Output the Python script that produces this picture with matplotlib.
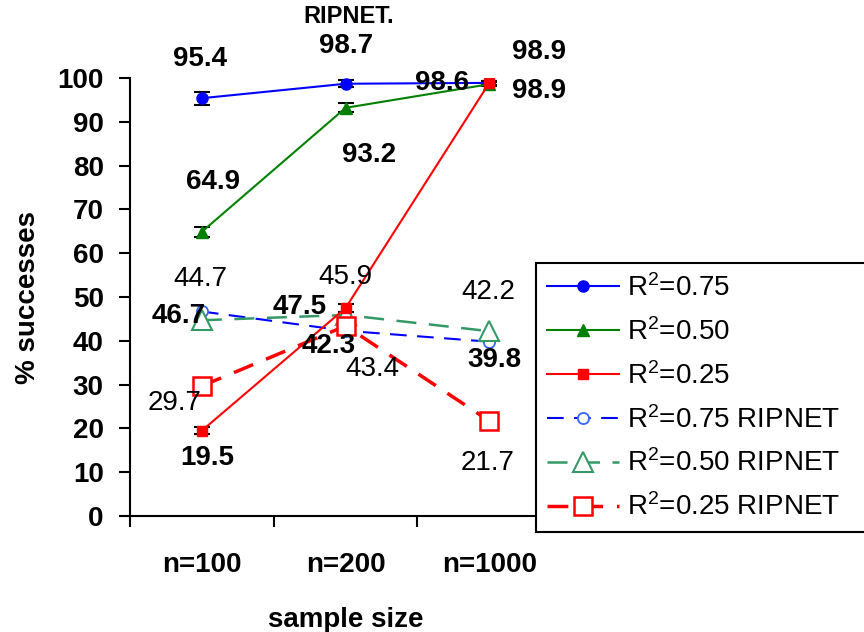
import matplotlib.pyplot as plt

plt.rcParams["font.family"] = ["Liberation Sans", "DejaVu Sans"]
plt.rcParams["mathtext.fontset"] = "custom"
plt.rcParams["mathtext.rm"] = "Liberation Sans"
plt.rcParams["mathtext.default"] = "regular"

sizes = ["n=100", "n=200", "n=1000"]

# success rates, full model
r75 = [95.4, 98.7, 98.9]
r50 = [64.9, 93.2, 98.6]
r25 = [19.5, 47.5, 98.9]
r75_err = [1.5, 0.8, 0.5]
r50_err = [1.2, 1.0, 0.5]
r25_err = [0.8, 1.0, 0.5]

# success rates, RIPNET
rip75 = [46.7, 42.3, 39.8]
rip50 = [44.7, 45.9, 42.2]
rip25 = [29.7, 43.4, 21.7]

x = [0.5, 1.5, 2.5]

fig = plt.figure(figsize=(8.64, 6.32), dpi=100)
ax = fig.add_axes([0.1505, 0.1835, 0.499, 0.693])

for vals, err in ((r75, r75_err), (r50, r50_err), (r25, r25_err)):
    ax.errorbar(x, vals, yerr=err, fmt="none", ecolor="black", elinewidth=1.5,
                capsize=6, capthick=1.5, zorder=6)

h1, = ax.plot(x, r75, color="#0000ff", marker="o", ms=8, lw=1.5, label="R$^2$=0.75", zorder=7)
h2, = ax.plot(x, r50, color="#008000", marker="^", ms=8, lw=1.5, label="R$^2$=0.50", zorder=7)
h3, = ax.plot(x, r25, color="#ff0000", marker="s", ms=6.5, lw=1.5, label="R$^2$=0.25", zorder=7)

h4, = ax.plot(x, rip75, color="#0000ff", ls=(0, (8, 5)), lw=1.5, marker="o", ms=8,
              mfc="white", mec="#3366ff", mew=1.3, label="R$^2$=0.75 RIPNET", zorder=4)
h5, = ax.plot(x, rip50, color="#339966", ls=(0, (8, 5)), lw=1.8, marker="^", ms=14,
              mfc="white", mec="#339966", mew=1.5, label="R$^2$=0.50 RIPNET", zorder=4)
h6, = ax.plot(x, rip25, color="#ff0000", ls=(0, (6, 4)), lw=2.5, marker="s", ms=13,
              mfc="white", mec="#ff0000", mew=1.8, label="R$^2$=0.25 RIPNET", zorder=5)

ax.set_xlim(0, 3)
ax.set_ylim(0, 100)
ax.set_yticks(range(0, 101, 10))
ax.set_xticks([0, 1, 2, 3])
ax.set_xticklabels([])
ax.set_xticks(x, minor=True)
ax.set_xticklabels(sizes, minor=True)
ax.tick_params(axis="x", which="minor", length=0, pad=26, labelsize=20)
ax.tick_params(axis="x", which="major", length=8, width=1.5, direction="out")
ax.tick_params(axis="y", length=8, width=1.5, direction="out", pad=11, labelsize=20)
for lbl in ax.get_yticklabels() + ax.get_xticklabels(minor=True):
    lbl.set_fontweight("bold")
for side in ("top", "right"):
    ax.spines[side].set_visible(False)
for side in ("left", "bottom"):
    ax.spines[side].set_linewidth(1.5)

ax.set_ylabel("% successes", fontsize=20, fontweight="bold", labelpad=12)
ax.set_xlabel("sample size", fontsize=20, fontweight="bold", labelpad=21)
fig.text(0.403, 0.974, "RIPNET.", ha="center", va="center", fontsize=17,
         fontweight="bold")

# value labels, offsets in points from each marker
bold_labels = [
    (r75, [(-1, 28), (0, 27), (36, 22)]),
    (r50, [(8, 36), (17, -34), (-34, 1)]),
    (r25, [(4, -20), (-33, 1), (36, -6)]),
    (rip75, [(-17, -3), (-12, -11), (4, -13)]),
]
light_labels = [
    (rip50, [(-1, 30), (0, 27), (-1, 28)]),
    (rip25, [(-20, -12), (19, -31), (-1, -30)]),
]
for labels, weight in ((bold_labels, "bold"), (light_labels, "normal")):
    for vals, offs in labels:
        for xi, v, off in zip(x, vals, offs):
            ax.annotate(f"{v:.1f}", (xi, v), xytext=off, textcoords="offset points",
                        ha="center", va="center", fontsize=20, fontweight=weight,
                        annotation_clip=False, zorder=8)

leg = fig.legend(handles=[h1, h2, h3, h4, h5, h6], loc="upper left",
                 bbox_to_anchor=(0.620, 0.166, 0.45, 0.418), mode="expand",
                 borderaxespad=0, fontsize=20, handlelength=2.6, labelspacing=0.58,
                 borderpad=0.4, handletextpad=0.3, fancybox=False, framealpha=1,
                 edgecolor="black")
leg.get_frame().set_linewidth(1.5)
leg.set_zorder(10)

fig.savefig("out.png", dpi=100)
